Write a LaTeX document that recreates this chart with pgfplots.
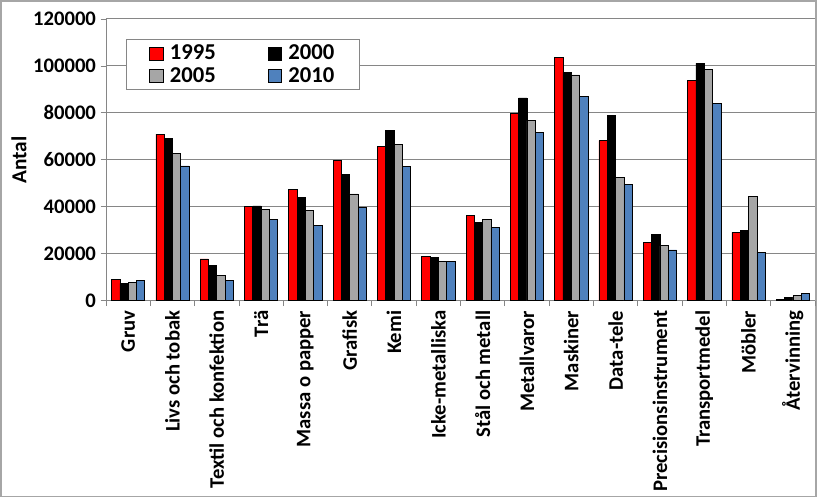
\documentclass[border=0pt]{standalone}
\usepackage{pgfplots}
\pgfplotsset{compat=1.18}
\usepackage{fontspec}
\setmainfont{Carlito}
\definecolor{cred}{RGB}{255,0,0}
\definecolor{cgray}{RGB}{166,166,166}
\definecolor{cblue}{RGB}{79,129,189}
\definecolor{cgrid}{RGB}{134,134,134}

\pgfplotstableread{
x  a1995  a2000  a2005  a2010
0   9100   7400   7800   8500
1  71000  69200  62600  57400
2  17800  14900  10800   8800
3  40000  40400  38800  34700
4  47400  44000  38400  32100
5  59900  53800  45500  39700
6  65700  72400  66700  57300
7  19000  18600  16800  16900
8  36500  33200  34700  31100
9  79700  86400  76700  71700
10 103700 97200  96200  86900
11 68200  79000  52600  49600
12 24700  28100  23400  21600
13 93900 101100  98400  84200
14 29100  30100  44500  20600
15   600   1400   2100   3000
}\data

\begin{document}
\begin{tikzpicture}[x=0.75pt,y=0.75pt]
\useasboundingbox (-106,-197.3) rectangle (711,300.7);
\draw[color=cgray,line width=1pt] (-105,-195.8) rectangle (710,299.7);
\begin{axis}[
  at={(0,0)}, anchor=south west,
  scale only axis,
  width=531.75pt, height=211.3pt,
  font=\bfseries\fontsize{15}{17}\selectfont,
  ybar=0pt, bar width=0.1875,
  xmin=-0.5, xmax=15.5,
  ymin=0, ymax=120000,
  ytick={0,20000,...,120000},
  scaled y ticks=false,
  yticklabel style={/pgf/number format/fixed,/pgf/number format/1000 sep={},font=\bfseries\fontsize{15.5}{17}\selectfont},
  /pgf/number format/assume math mode=true,
  ymajorgrids, grid style={draw=cgrid, line width=0.8pt},
  axis line style={draw=cgrid},
  axis x line*=bottom, axis y line*=left,
  xtick={0,...,15},
  xticklabels={Gruv,Livs och tobak,Textil och konfektion,Trä,Massa o papper,Grafisk,Kemi,Icke-metalliska,Stål och metall,Metallvaror,Maskiner,Data-tele,Precisionsinstrument,Transportmedel,Möbler,Återvinning},
  xticklabel style={rotate=90, anchor=east, font=\bfseries\fontsize{15.5}{17}\selectfont},
  major x tick style={draw=none},
  minor xtick={-0.5,0.5,1.5,2.5,3.5,4.5,5.5,6.5,7.5,8.5,9.5,10.5,11.5,12.5,13.5,14.5,15.5},
  minor x tick style={draw=cgrid, line width=0.6pt},
  minor tick length=4pt,
  ytick style={draw=cgrid, line width=0.6pt},
  major tick length=4pt,
  tick align=outside,
  ylabel={Antal},
  ylabel style={font=\bfseries\fontsize{16}{18}\selectfont, yshift=-2pt},
  legend columns=2,
  legend style={at={(0.0282,0.928)}, anchor=north west, draw=cgrid, line width=0.8pt,
    font=\bfseries\fontsize{17}{19}\selectfont,
    /tikz/every even column/.append style={column sep=37pt},
    /tikz/every odd column/.append style={column sep=3pt},
    inner xsep=17pt, inner ysep=2pt},
  legend image code/.code={\draw[#1,draw=black] (0pt,-5pt) rectangle (10pt,5pt);},
  every axis plot/.append style={draw=black, line width=0.5pt},
]
\addplot[fill=cred] table[x=x,y=a1995] {\data};
\addplot[fill=black] table[x=x,y=a2000] {\data};
\addplot[fill=cgray] table[x=x,y=a2005] {\data};
\addplot[fill=cblue] table[x=x,y=a2010] {\data};
\legend{1995,2000,2005,2010}
\end{axis}
\end{tikzpicture}
\end{document}
